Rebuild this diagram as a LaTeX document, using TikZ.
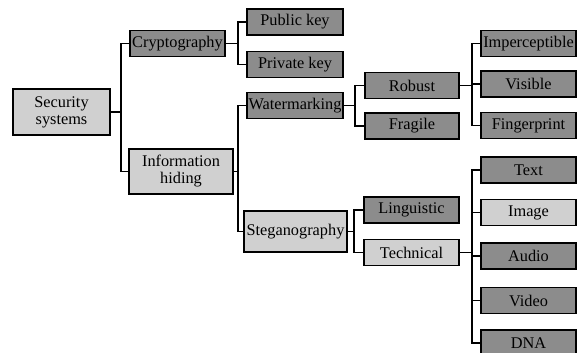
\documentclass[tikz,border=0pt]{standalone}
\usepackage{fontspec}
\setmainfont{Liberation Serif}
\definecolor{darkbox}{RGB}{140,140,140}
\definecolor{lightbox}{RGB}{208,208,208}

\begin{document}
\begin{tikzpicture}[x=1pt,y=-1pt]
      \useasboundingbox (0,0) rectangle (583,353);
      \begin{scope}[every node/.style={rectangle,draw,line width=1.7pt,inner sep=0pt,
          minimum height=26pt,align=center,font=\fontsize{16.3}{17}\selectfont},
          dk/.style={fill=darkbox},lt/.style={fill=lightbox}]
        \node[lt,minimum width=97pt,minimum height=46pt] (sec) at (61.5,112) {Security\\systems};
        \node[dk,minimum width=95pt] (crypt) at (177.5,43.5) {Cryptography};
        \node[lt,minimum width=104pt,minimum height=45pt] (info) at (181,171.5) {Information\\hiding};
        \node[dk,minimum width=96pt] (pub) at (295,22) {Public key};
        \node[dk,minimum width=96pt] (priv) at (295,64.5) {Private key};
        \node[dk,minimum width=96pt] (wm) at (295,105.5) {Watermarking};
        \node[lt,minimum width=103pt,minimum height=41pt] (steg) at (295.5,231.5) {Steganography};
        \node[dk,minimum width=94pt] (robust) at (412,85.5) {Robust};
        \node[dk,minimum width=94pt] (fragile) at (412,126) {Fragile};
        \node[dk,minimum width=95pt] (ling) at (411.5,210) {Linguistic};
        \node[lt,minimum width=95pt] (tech) at (411.5,252.5) {Technical};
        \node[dk,minimum width=95pt] (imp) at (528.5,43.5) {Imperceptible};
        \node[dk,minimum width=95pt] (vis) at (528.5,84) {Visible};
        \node[dk,minimum width=95pt] (fing) at (528.5,125.5) {Fingerprint};
        \node[dk,minimum width=95pt] (text) at (528.5,170) {Text};
        \node[lt,minimum width=95pt] (image) at (528.5,212.5) {Image};
        \node[dk,minimum width=95pt] (audio) at (528.5,256) {Audio};
        \node[dk,minimum width=95pt] (video) at (528.5,300.5) {Video};
        \node[dk,minimum width=95pt] (dna) at (528.5,343) {DNA};
      \end{scope}
      \begin{scope}[line width=1.7pt]
        \draw (sec.east) -- ++(10,0) |- (crypt.west);
        \draw (sec.east) -- ++(10,0) |- (info.west);
        \draw (crypt.east) -- ++(12,0) |- (pub.west);
        \draw (crypt.east) -- ++(12,0) |- (priv.west);
        \draw (info.east) -- ++(4,0) |- (wm.west);
        \draw (info.east) -- ++(4,0) |- (steg.west);
        \draw (wm.east) -- ++(11,0) |- (robust.west);
        \draw (wm.east) -- ++(11,0) |- (fragile.west);
        \draw (robust.east) -- ++(12,0) |- (imp.west);
        \draw (robust.east) -- ++(12,0) |- (vis.west);
        \draw (robust.east) -- ++(12,0) |- (fing.west);
        \draw (steg.east) -- ++(6,0) |- (ling.west);
        \draw (steg.east) -- ++(6,0) |- (tech.west);
        \draw (tech.east) -- ++(12,0) |- (text.west);
        \draw (tech.east) -- ++(12,0) |- (image.west);
        \draw (tech.east) -- ++(12,0) |- (audio.west);
        \draw (tech.east) -- ++(12,0) |- (video.west);
        \draw (tech.east) -- ++(12,0) |- (dna.west);
      \end{scope}
    \end{tikzpicture}
\end{document}
